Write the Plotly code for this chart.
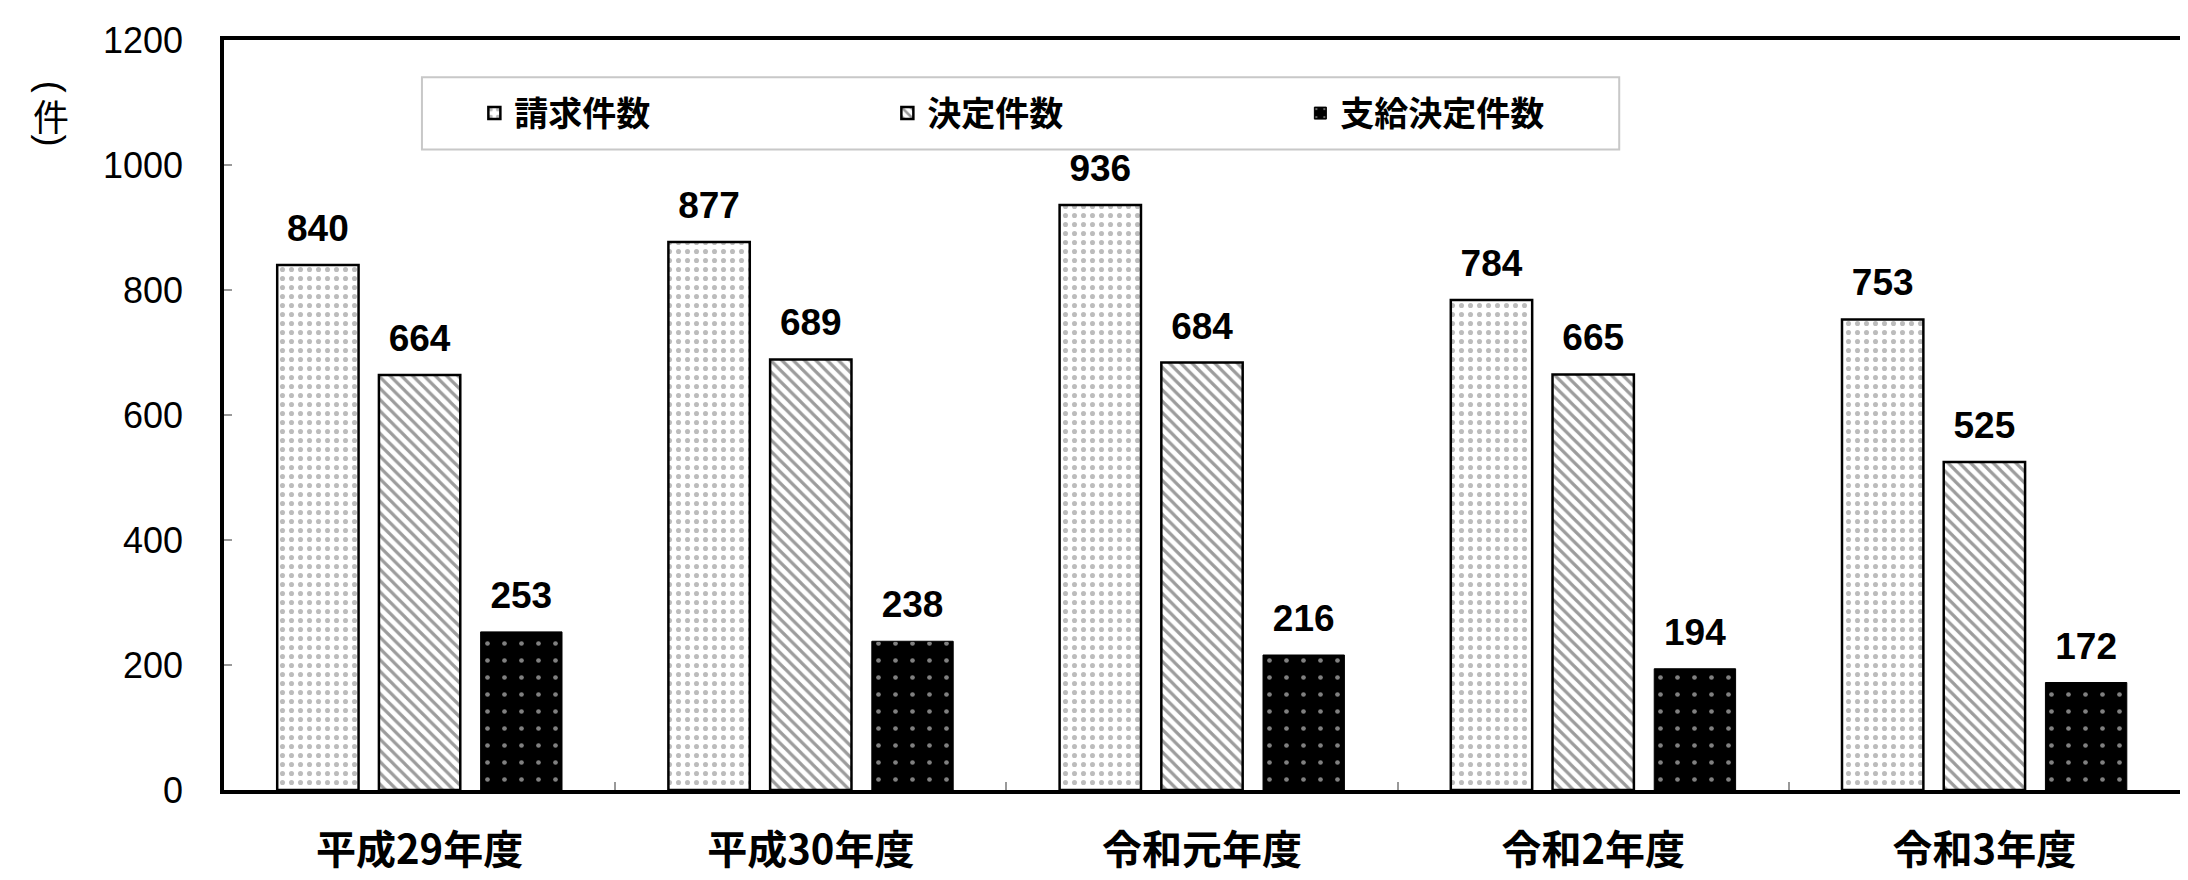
import plotly.graph_objects as go

years = ["平成29年度", "平成30年度", "令和元年度", "令和2年度", "令和3年度"]
series_names = ["請求件数", "決定件数", "支給決定件数"]
claims = [840, 877, 936, 784, 753]
decisions = [664, 689, 684, 665, 525]
payments = [253, 238, 216, 194, 172]
y_ticks = [0, 200, 400, 600, 800, 1000, 1200]

values = [claims, decisions, payments]

# fill styles per series: light dots, diagonal hatch, black with white dots
bar_styles = [
    dict(color="white", line=dict(color="black", width=2.5),
         pattern=dict(shape=".", fgcolor="#7a7a7a", bgcolor="white",
                      size=9, solidity=0.25)),
    dict(color="white", line=dict(color="black", width=2.5),
         pattern=dict(shape="\\", fgcolor="#3a3a3a", bgcolor="white",
                      size=8, solidity=0.4)),
    dict(color="black", line=dict(color="black", width=1),
         pattern=dict(shape=".", fgcolor="white", bgcolor="black",
                      size=17, solidity=0.06)),
]

fig = go.Figure()
for i, (name, vals) in enumerate(zip(series_names, values)):
    fig.add_trace(go.Bar(
        x=years, y=vals, name=name, marker=bar_styles[i],
        offsetgroup=str(i), hoverinfo="x+y",
    ))

# value labels, grouped the same way as the bars
for i, vals in enumerate(values):
    fig.add_trace(go.Scatter(
        x=years, y=vals, mode="markers+text", text=[str(v) for v in vals],
        textposition="top center", offsetgroup=str(i), showlegend=False,
        marker=dict(size=22, opacity=0), cliponaxis=False,
        textfont=dict(family="Liberation Sans", size=37, color="black",
                      weight="bold"),
        hoverinfo="skip",
    ))

# legend frame
fig.add_shape(type="rect", xref="paper", yref="paper",
              x0=0.1012, x1=0.7133, y0=0.854, y1=0.9505,
              line=dict(color="#c8c8c8", width=2), fillcolor="white",
              layer="below")

# vertical unit label: (件) written top to bottom, parens turned sideways
unit_font = dict(family="Liberation Sans", size=36, color="black")
for txt, ypos, angle, fnt in [
    ("(", 0.9375, 90, unit_font),
    ("件", 0.900, 0, dict(family="Noto Sans CJK JP", size=36, color="black")),
    (")", 0.866, 90, unit_font),
]:
    fig.add_annotation(text=txt, xref="paper", yref="paper", x=-0.0884,
                       y=ypos, xanchor="center", yanchor="middle",
                       textangle=angle, showarrow=False, font=fnt)

fig.update_layout(
    width=2188, height=880,
    barmode="group", bargap=0.22, bargroupgap=0.2,
    scattermode="group", scattergap=0.22,
    plot_bgcolor="white", paper_bgcolor="white",
    margin=dict(l=216, r=15, t=31, b=81),
    font=dict(family="Liberation Sans", color="black"),
    showlegend=True,
    legend=dict(
        orientation="h", x=0.128, y=0.902, xanchor="left", yanchor="middle",
        entrywidth=368, entrywidthmode="pixels",
        bgcolor="rgba(0,0,0,0)", borderwidth=0,
        font=dict(family="Noto Sans CJK JP", size=34, color="black",
                  weight="bold"),
        traceorder="normal",
    ),
    xaxis=dict(
        showline=True, linecolor="black", linewidth=3.5, mirror=True,
        ticks="inside", tickson="boundaries", ticklen=8, tickcolor="#999999",
        tickwidth=1.5, showgrid=False, ticklabelstandoff=22,
        tickfont=dict(family="Noto Sans CJK JP", size=40, color="black",
                      weight="bold"),
    ),
    yaxis=dict(
        range=[0, 1200], tickvals=y_ticks, showline=True, linecolor="black",
        linewidth=3.5, mirror=True, ticks="inside", ticklen=8,
        tickcolor="#999999", tickwidth=1.5, showgrid=False, zeroline=False,
        ticklabelstandoff=30,
        tickfont=dict(family="Liberation Sans", size=36, color="black"),
    ),
)

fig.write_html("out.html")
